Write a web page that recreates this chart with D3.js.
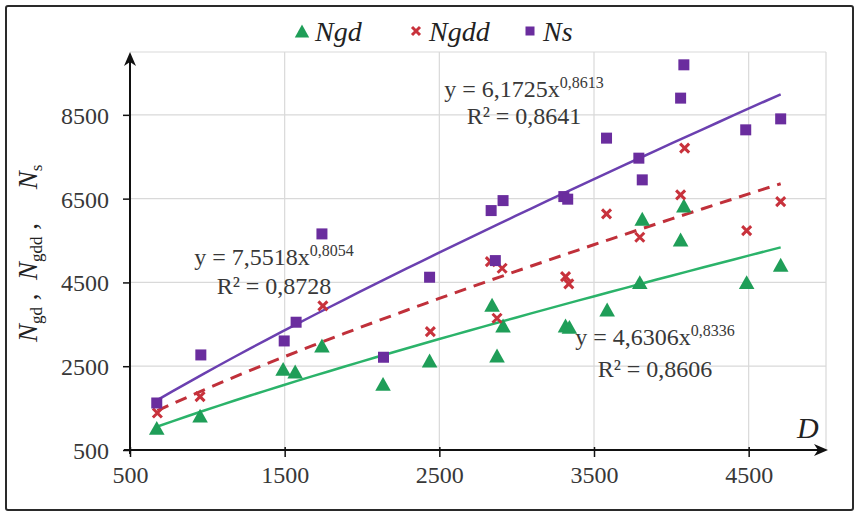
<!DOCTYPE html>
<html><head><meta charset="utf-8">
<script src="https://cdn.jsdelivr.net/npm/d3@7"></script>
<style>body{margin:0;background:#fff}svg{display:block}text{font-family:"Liberation Serif","Times New Roman",serif}</style>
</head><body>
<svg id="c" width="860" height="515"></svg>
<script>
// ---- data ----
const xTicks = [500, 1500, 2500, 3500, 4500];
const yTicks = [500, 2500, 4500, 6500, 8500];

const ngdD = [673, 953, 1490, 1568, 1741, 2136, 2437, 2841, 2912, 2873, 3316, 3341, 3585, 3796, 3812, 4060, 4081, 4487, 4707];
const ngdV = [1001, 1295, 2410, 2346, 2967, 2052, 2609, 3939, 3444, 2728, 3444, 3413, 3827, 4481, 5993, 5498, 6310, 4481, 4894];

const ngddD = [677, 953, 1747, 2442, 2830, 2906, 2873, 3316, 3337, 3581, 3796, 4060, 4086, 4487, 4707];
const ngddV = [1384, 1773, 3939, 3325, 4997, 4839, 3645, 4639, 4464, 6136, 5579, 6590, 7705, 5737, 6429];

const nsD = [673, 958, 1497, 1574, 1741, 2139, 2437, 2835, 2912, 2862, 3305, 3330, 3581, 3790, 3812, 4060, 4081, 4481, 4707];
const nsV = [1622, 2769, 3103, 3550, 5658, 2714, 4624, 6215, 6453, 5021, 6549, 6487, 7944, 7466, 6948, 8899, 9694, 8142, 8404];

// power trendlines y = a * x^b
const fitA = [4.6306, 7.5518, 6.1725];
const fitB = [0.8336, 0.8054, 0.8613];
const fitR2 = ["0,8606", "0,8728", "0,8641"];
const fitLabelA = ["4,6306", "7,5518", "6,1725"];
const fitLabelB = ["0,8336", "0,8054", "0,8613"];

const seriesNames = ["Ngd", "Ngdd", "Ns"];

// ---- styles ----
const markerCol = ["#1f9e58", "#c8323c", "#6a2d9e"];
const lineCol = ["#2bb36a", "#c0303a", "#6b40b0"];
const textCol = "#383838";

const svg = d3.select("#c");
const x = d3.scaleLinear().domain([500, 5000]).range([130, 826]);
const y = d3.scaleLinear().domain([500, 10000]).range([450, 52]);

// outer border
svg.append("rect").attr("x", 6).attr("y", 6).attr("width", 847).attr("height", 504)
  .attr("fill", "#fff").attr("stroke", "#2a2a2a").attr("stroke-width", 2).attr("rx", 2);

// gridlines
const grid = svg.append("g").attr("stroke", "#d9d9d9").attr("stroke-width", 1.2);
yTicks.slice(1).concat([10000]).forEach(v => grid.append("line").attr("x1", x(500)).attr("x2", x(5000)).attr("y1", y(v)).attr("y2", y(v)));
xTicks.slice(1).concat([5000]).forEach(v => grid.append("line").attr("y1", y(500)).attr("y2", y(10000)).attr("x1", x(v)).attr("x2", x(v)));

// axes
const xAxis = d3.axisBottom(x).tickValues(xTicks).tickSize(7).tickPadding(8).tickFormat(d3.format("d"));
const gx = svg.append("g").attr("transform", `translate(0,${y(500)})`).call(xAxis);
gx.select(".domain").remove();
gx.selectAll("line").attr("stroke", "#111").attr("stroke-width", 1.5).attr("y1", -3);
gx.selectAll("text").attr("font-size", 24).attr("fill", textCol).attr("dy", "0.75em");

const yAxis = d3.axisLeft(y).tickValues(yTicks).tickSize(7).tickPadding(14).tickFormat(d3.format("d"));
const gy = svg.append("g").attr("transform", `translate(${x(500)},0)`).call(yAxis);
gy.select(".domain").remove();
gy.selectAll("line").attr("stroke", "#111").attr("stroke-width", 1.5);
gy.selectAll("text").attr("font-size", 24).attr("fill", textCol).attr("dy", "0.35em");

// axis lines with arrows
svg.append("line").attr("x1", x(500) - 6).attr("x2", x(5000) - 4).attr("y1", y(500)).attr("y2", y(500)).attr("stroke", "#111").attr("stroke-width", 2);
svg.append("path").attr("d", `M${x(5000)+2},${y(500)} l-14,-6 l4,6 l-4,6 z`).attr("fill", "#111");
svg.append("line").attr("x1", x(500)).attr("x2", x(500)).attr("y1", y(500) + 4).attr("y2", 60).attr("stroke", "#111").attr("stroke-width", 2);
svg.append("path").attr("d", `M${x(500)},52 l-6,14 l6,-4 l6,4 z`).attr("fill", "#111");

// trendlines
const fitDom = [[d3.min(ngdD), d3.max(ngdD)], [d3.min(ngddD), d3.max(ngddD)], [d3.min(nsD), d3.max(nsD)]];
const line = d3.line().x(d => x(d[0])).y(d => y(d[1]));
[0, 1, 2].forEach(i => {
  const pts = d3.range(0, 41).map(k => {
    const xv = fitDom[i][0] + (fitDom[i][1] - fitDom[i][0]) * k / 40;
    return [xv, fitA[i] * Math.pow(xv, fitB[i])];
  });
  svg.append("path").attr("d", line(pts)).attr("fill", "none").attr("stroke", lineCol[i])
    .attr("stroke-width", i === 1 ? 3 : 2.5).attr("stroke-dasharray", i === 1 ? "12,8" : null);
});

// markers
function tri(g, cx, cy, s, c) { g.append("path").attr("d", `M${cx},${cy - s * 0.62} L${cx + s * 0.6},${cy + s * 0.45} L${cx - s * 0.6},${cy + s * 0.45} Z`).attr("fill", c); }
function sq(g, cx, cy, s, c) { g.append("rect").attr("x", cx - s / 2).attr("y", cy - s / 2).attr("width", s).attr("height", s).attr("fill", c); }
function cross(g, cx, cy, s, c) {
  const h = s / 2;
  g.append("path").attr("d", `M${cx - h},${cy - h} L${cx + h},${cy + h} M${cx + h},${cy - h} L${cx - h},${cy + h}`)
    .attr("stroke", c).attr("stroke-width", 3).attr("fill", "none");
}
const gm = svg.append("g");
ngdD.forEach((d, i) => tri(gm, x(d), y(ngdV[i]), 13, markerCol[0]));
ngddD.forEach((d, i) => cross(gm, x(d), y(ngddV[i]), 9, markerCol[1]));
nsD.forEach((d, i) => sq(gm, x(d), y(nsV[i]), 11, markerCol[2]));

// equation labels
const eqPos = [[655, 345, 377], [274, 265, 294], [524, 97, 124]];
[0, 1, 2].forEach(i => {
  const t = svg.append("text").attr("x", eqPos[i][0]).attr("y", eqPos[i][1]).attr("text-anchor", "middle")
    .attr("font-size", 24).attr("fill", textCol);
  t.append("tspan").text(`y = ${fitLabelA[i]}x`);
  t.append("tspan").attr("font-size", 16).attr("dy", -9).text(fitLabelB[i]);
  svg.append("text").attr("x", eqPos[i][0]).attr("y", eqPos[i][2]).attr("text-anchor", "middle")
    .attr("font-size", 24).attr("fill", textCol).text(`R² = ${fitR2[i]}`);
});

// legend
const lg = svg.append("g");
const legX = [302, 416, 530];
tri(lg, legX[0], 32, 12, markerCol[0]);
cross(lg, legX[1], 31, 8, markerCol[1]);
sq(lg, legX[2], 31, 9, markerCol[2]);
seriesNames.forEach((n, i) => lg.append("text").attr("x", legX[i] + 13).attr("y", 41).attr("font-size", 28)
  .attr("font-style", "italic").attr("fill", "#222").text(n));

// axis titles
svg.append("text").attr("x", 797).attr("y", 438).attr("font-size", 30).attr("font-style", "italic").attr("fill", "#222").text("D");
const yt = svg.append("text").attr("transform", "translate(37,342) rotate(-90)").attr("font-size", 27).attr("fill", "#222")
  .style("white-space", "pre");
const parts = [["N", "gd", " ,  "], ["N", "gdd", " ,     "], ["N", "s", ""]];
parts.forEach(p => {
  yt.append("tspan").attr("font-style", "italic").text(p[0]);
  yt.append("tspan").attr("font-size", 17).attr("dy", 5).text(p[1]);
  yt.append("tspan").attr("dy", -5).text(p[2]);
});
</script>
</body></html>
